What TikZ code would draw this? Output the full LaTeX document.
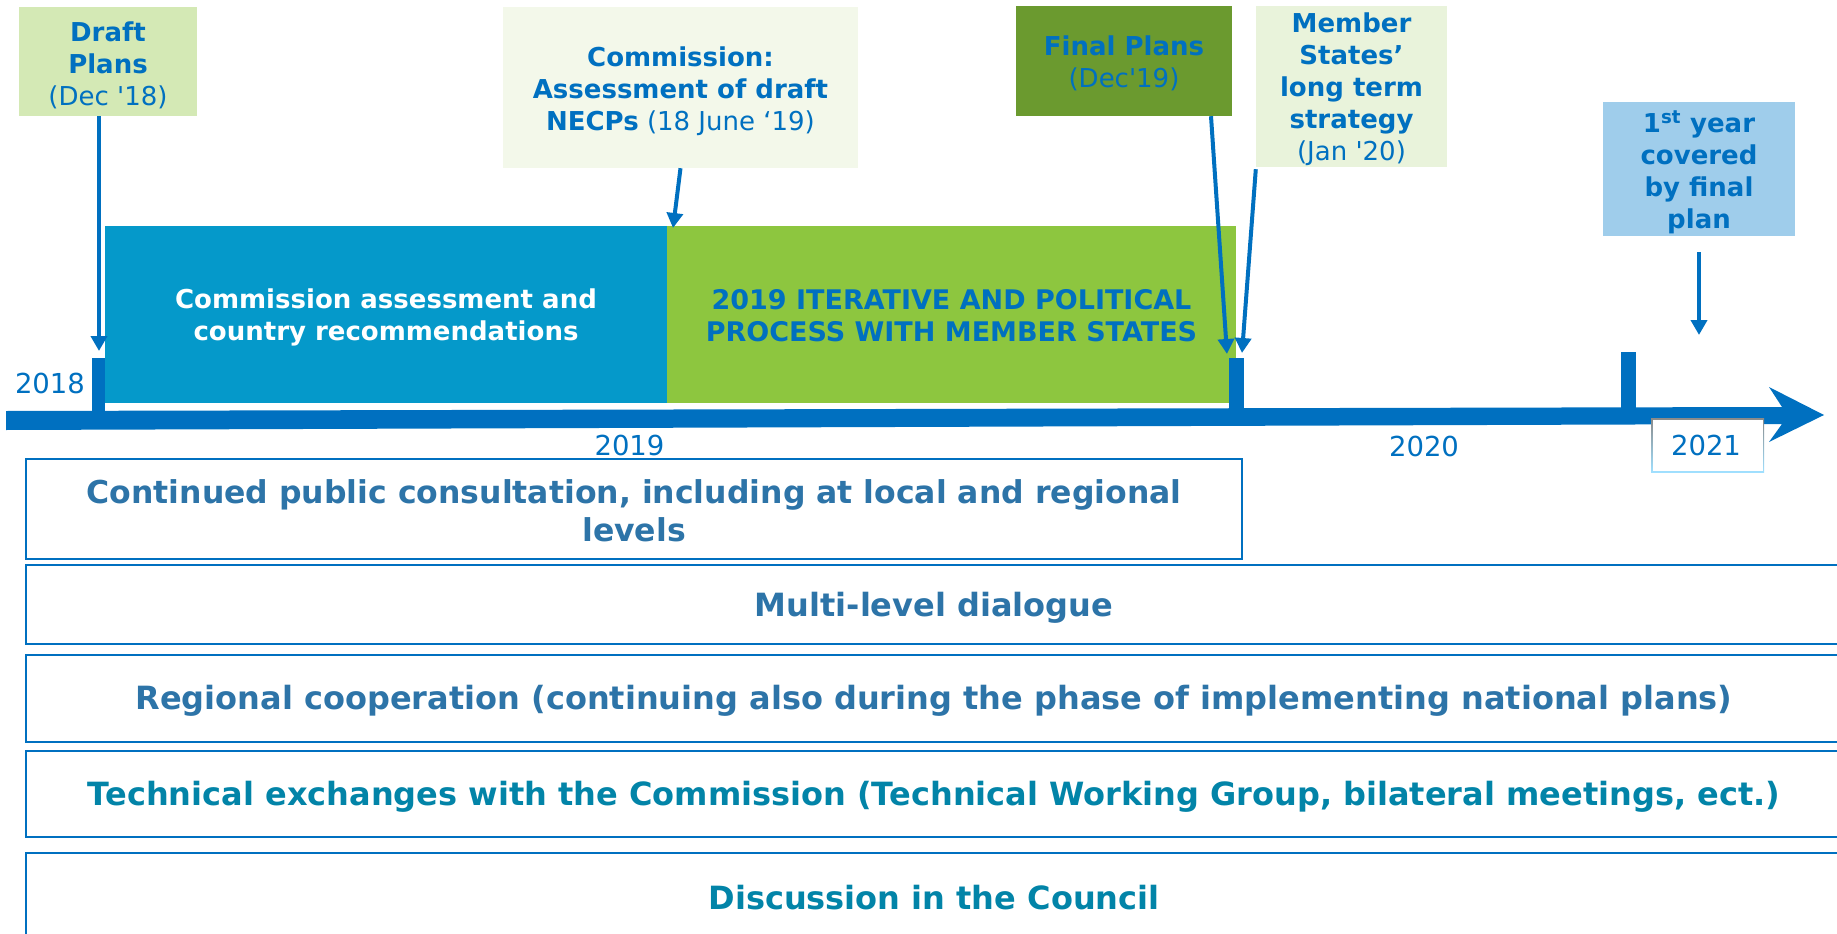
\documentclass[tikz,border=0pt]{standalone}
\usepackage{fontspec}
\setmainfont{DejaVu Sans}
\usetikzlibrary{arrows.meta,calc}
\definecolor{axisblue}{HTML}{0070C0}
\definecolor{assessblue}{HTML}{0599CA}
\definecolor{procgreen}{HTML}{8DC63F}
\definecolor{finalgreen}{HTML}{6B9A2F}
\definecolor{draftgreen}{HTML}{D4E9B5}
\definecolor{commpale}{HTML}{F3F8EA}
\definecolor{memberpale}{HTML}{E9F3DB}
\definecolor{yearblue}{HTML}{9FCDEB}
\definecolor{lanesteel}{HTML}{2D74A8}
\definecolor{laneteal}{HTML}{0284A8}
\definecolor{frametop}{HTML}{8A8A8A}
\definecolor{framebot}{HTML}{A0E0FF}
\begin{document}
\begin{tikzpicture}[x=1pt,y=-1pt,
  panel/.style={inner sep=0pt},
  infotext/.style={inner sep=0pt, align=center, text=axisblue,
    font=\fontsize{26}{32}\selectfont},
  phasetext/.style={inner sep=0pt, align=center,
    font=\fontsize{26}{32}\selectfont\bfseries},
  lane/.style={draw=axisblue, line width=2pt, fill=white, inner sep=0pt},
  lanetext/.style={inner sep=0pt, align=center,
    font=\fontsize{32}{38}\selectfont\bfseries},
  pointer/.style={draw=axisblue, line width=4pt,
    -{Triangle[width=16pt,length=15pt]}},
  yearlabel/.style={text=axisblue, font=\fontsize{27.5}{30}\selectfont,
    anchor=base, inner sep=0pt},
  tickmark/.style={fill=axisblue}
]
\useasboundingbox (0,0) rectangle (1837,934);
\clip (0,0) rectangle (1837,934);

% top information boxes
\node[panel, fill=draftgreen, minimum width=178pt, minimum height=109pt]
  (draft) at (108,61.5) {};
\node[infotext] (draftT) at ([yshift=-3.5pt]draft.center)
  {\textbf{Draft}\\\textbf{Plans}\\(Dec \textquotesingle18)};
\node[panel, fill=commpale, minimum width=355pt, minimum height=161pt]
  (comm) at (680.5,87.5) {};
\node[infotext] (commT) at ([yshift=-4pt]comm.center)
  {\textbf{Commission:}\\\textbf{Assessment of draft}\\\textbf{NECPs} (18 June ‘19)};
\node[panel, fill=finalgreen, minimum width=216pt, minimum height=110pt]
  (final) at (1124,61) {};
\node[infotext] (finalT) at ([yshift=-2.5pt]final.center)
  {\textbf{Final Plans}\\(Dec\textquotesingle19)};
\node[panel, fill=memberpale, minimum width=191pt, minimum height=161pt]
  (member) at (1351.5,86.5) {};
\node[infotext] (memberT) at ([yshift=-3pt]member.center)
  {\textbf{Member}\\\textbf{States’}\\\textbf{long term}\\\textbf{strategy}\\(Jan \textquotesingle20)};
\node[panel, fill=yearblue, minimum width=192pt, minimum height=134pt]
  (first) at (1699,169) {};
\node[infotext] (firstT) at ([yshift=-3pt]first.center)
  {\textbf{1\textsuperscript{st} year}\\\textbf{covered}\\\textbf{by final}\\\textbf{plan}};

% phase boxes
\node[panel, fill=assessblue, minimum width=562pt, minimum height=177pt]
  (assess) at (386,314.5) {};
\node[phasetext, text=white] (assessT) at ([yshift=-3pt]assess.center)
  {Commission assessment and\\country recommendations};
\node[panel, fill=procgreen, minimum width=569pt, minimum height=177pt]
  (process) at (951.5,314.5) {};
\node[phasetext, text=axisblue, font=\fontsize{27}{32}\selectfont\bfseries]
  (processT) at ([yshift=-1.5pt]process.center)
  {2019 ITERATIVE AND POLITICAL\\PROCESS WITH MEMBER STATES};

% time axis
\fill[axisblue] (6,411) -- (1782,407) -- (1769,387) -- (1824,415) -- (1769,442)
  -- (1782,424) -- (6,430) -- cycle;
\fill[tickmark] (91.5,358) rectangle (105,421);
\fill[tickmark] (1229,358) rectangle (1244,416);
\fill[tickmark] (1621,352) rectangle (1636,413);

% year labels
\node[yearlabel] (y18) at (50,393) {2018};
\node[yearlabel] (y19) at (629.5,455) {2019};
\node[yearlabel] (y20) at (1424,456) {2020};
\node[inner sep=0pt, minimum width=113pt, minimum height=54pt,
  top color=frametop, bottom color=framebot] (y21frame) at (1707.5,445) {};
\node[fill=white, inner sep=0pt, minimum width=110pt, minimum height=51pt]
  (y21box) at (y21frame.center) {};
\node[yearlabel] (y21) at (1706,455) {2021};

% pointers
\coordinate (dtip) at (99,351);
\coordinate (ctip) at (673,228);
\coordinate (ftip) at (1227,354);
\coordinate (mtip) at (1242,353);
\coordinate (ytip) at (1699,335);
\draw[pointer] (draft.south -| dtip) -- (dtip);
\draw[pointer] (comm.south) -- (ctip);
\draw[pointer] ($(final.south)+(87,0)$) -- (ftip);
\draw[pointer] ($(member.south west)+(0,2)$) -- (mtip);
\draw[pointer, shorten <=16pt] (first.south) -- (ytip);

% lanes
\node[lane, minimum width=1216pt, minimum height=100pt] (consult) at (634,509) {};
\node[lanetext, text=lanesteel, font=\fontsize{31.5}{38}\selectfont\bfseries]
  (consultT) at ([yshift=-1.5pt]consult.center)
  {Continued public consultation, including at local and regional\\levels};
\node[lane, minimum width=1816pt, minimum height=79pt] (multi) at (934,604.5) {};
\node[lanetext, text=lanesteel] (multiT) at ([yshift=-3pt]multi.center)
  {Multi-level dialogue};
\node[lane, minimum width=1816pt, minimum height=87pt] (regional) at (934,698.5) {};
\node[lanetext, text=lanesteel] (regionalT) at ([yshift=-2.5pt]regional.center)
  {Regional cooperation (continuing also during the phase of implementing national plans)};
\node[lane, minimum width=1816pt, minimum height=86pt] (technical) at (934,794) {};
\node[lanetext, text=laneteal] (technicalT) at ([yshift=-3pt]technical.center)
  {Technical exchanges with the Commission (Technical Working Group, bilateral meetings, ect.)};
\node[lane, minimum width=1816pt, minimum height=89pt] (council) at (934,897.5) {};
\node[lanetext, text=laneteal] (councilT) at ([yshift=-0.5pt]council.center)
  {Discussion in the Council};
\end{tikzpicture}
\end{document}
